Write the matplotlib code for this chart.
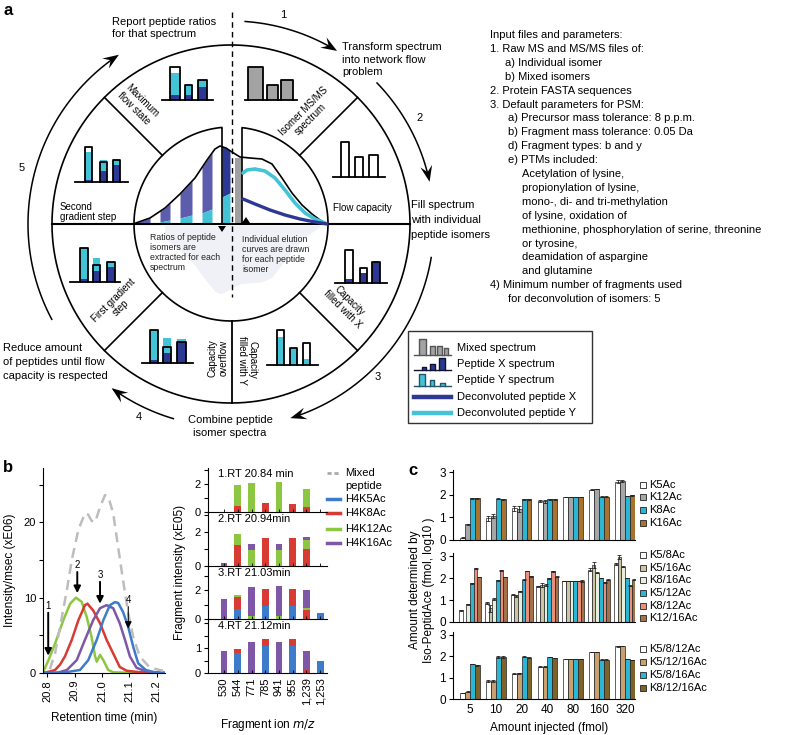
import numpy as np
import matplotlib
matplotlib.use('Agg')
import matplotlib.pyplot as plt
from matplotlib.patches import Rectangle, Polygon

plt.rcParams['font.family'] = ['Liberation Sans', 'DejaVu Sans']
plt.rcParams['font.size'] = 8

W, H = 786, 735
fig = plt.figure(figsize=(W / 100, H / 100), dpi=100)

# ------------------------------------------------------------------ data
# panel b, left: elution profiles (retention time, intensity xE06)
rt_k5 = [20.785, 20.86, 20.92, 20.950, 20.981, 21.005, 21.029, 21.047, 21.059, 21.077, 21.096, 21.114, 21.132, 21.16, 21.19, 21.23]
in_k5 = [0, 0.05, 0.4, 1.7, 4.4, 7.0, 9.0, 9.4, 9.3, 8.1, 6.1, 3.5, 1.3, 0.4, 0.1, 0.0]
rt_k8 = [20.785, 20.81, 20.829, 20.847, 20.865, 20.890, 20.914, 20.938, 20.947, 20.968, 20.993, 21.017, 21.041, 21.065, 21.090, 21.114, 21.14, 21.23]
in_k8 = [0.0, 0.2, 0.4, 1.1, 2.2, 4.4, 7.0, 9.0, 9.2, 8.3, 6.6, 4.4, 2.6, 0.8, 0.3, 0.2, 0.1, 0.0]
rt_k12 = [20.785, 20.805, 20.829, 20.859, 20.884, 20.905, 20.926, 20.944, 20.962, 20.975, 20.981, 20.993, 21.005, 21.023, 21.041, 21.08, 21.15, 21.23]
in_k12 = [0.1, 1.7, 3.9, 7.0, 9.2, 10.0, 9.45, 7.5, 4.8, 2.2, 1.5, 2.4, 1.7, 0.4, 0.1, 0.05, 0.02, 0.0]
rt_k16 = [20.785, 20.84, 20.872, 20.908, 20.938, 20.968, 20.993, 21.017, 21.041, 21.065, 21.084, 21.102, 21.126, 21.162, 21.23]
in_k16 = [0, 0.05, 0.4, 1.7, 4.4, 7.0, 8.6, 9.0, 8.6, 6.6, 4.4, 2.2, 0.7, 0.2, 0.0]
rt_mix = [20.81, 20.829, 20.847, 20.872, 20.890, 20.914, 20.938, 20.950, 20.962, 20.975, 20.993, 21.011, 21.023, 21.041, 21.059, 21.077, 21.096, 21.114, 21.138, 21.175, 21.223]
in_mix = [0.5, 2.6, 6.1, 11, 15, 19, 21.2, 21.0, 20.2, 20.0, 22.0, 23.6, 23.4, 21.2, 16.7, 12.3, 7.9, 4.8, 2.2, 0.7, 0.3]
scan_rt = [20.804, 20.91, 20.993, 21.096]
scan_top = [8.0, 13.4, 12.1, 8.8]
scan_tip = [2.3, 10.6, 9.2, 5.9]

# panel b, middle: fragment intensities (xE05)
frag_ions = ['530', '544', '771', '785', '941', '955', '1,239', '1,253']
scan_titles = ['1.RT 20.84 min', '2.RT 20.94min', '3.RT 21.03min', '4.RT 21.12min']
frag_k5 = [[0, 0, 0, 0, 0, 0, 0, 0],
           [0, 0, 0, 0, 0, 0, 0, 0],
           [0, 0.69, 0, 0.92, 0, 0.92, 0, 0.41],
           [0, 0.80, 0, 1.10, 0, 1.10, 0, 0.50]]
frag_k8 = [[0, 0.45, 0, 0.65, 0, 0.60, 0.35, 0],
           [0, 1.20, 0, 1.64, 0, 1.64, 1.00, 0],
           [0, 0.83, 0, 1.17, 0, 1.17, 0.65, 0],
           [0, 0.17, 0, 0.26, 0, 0.26, 0.13, 0]]
frag_k12 = [[0, 1.45, 2.10, 0, 2.14, 0, 1.32, 0],
            [0, 0.67, 0.95, 0, 0.95, 0, 0.52, 0],
            [0, 0.12, 0.23, 0, 0.23, 0, 0.10, 0],
            [0, 0, 0, 0, 0, 0, 0, 0]]
frag_k16 = [[0, 0, 0, 0, 0, 0, 0, 0],
            [0.19, 0, 0.31, 0, 0.35, 0, 0.19, 0],
            [1.40, 0, 1.95, 0, 2.02, 0, 1.25, 0],
            [0.87, 0, 1.23, 0, 1.24, 0, 0.76, 0]]
peptides_b = ['H4K5Ac', 'H4K8Ac', 'H4K12Ac', 'H4K16Ac']

# panel c: amount determined (log10 fmol)
injected = ['5', '10', '20', '40', '80', '160', '320']
single_names = ['K5Ac', 'K12Ac', 'K8Ac', 'K16Ac']
single_vals = [[0.10, 0.95, 1.40, 1.72, 1.90, 2.22, 2.58],
               [0.70, 1.05, 1.37, 1.70, 1.90, 2.25, 2.60],
               [1.85, 1.82, 1.80, 1.80, 1.90, 1.92, 1.95],
               [1.85, 1.80, 1.80, 1.80, 1.90, 1.92, 1.97]]
single_err = [[0.02, 0.12, 0.10, 0.05, 0.01, 0.02, 0.05],
              [0.02, 0.08, 0.12, 0.05, 0.01, 0.02, 0.05],
              [0.02, 0.02, 0.02, 0.02, 0.01, 0.02, 0.01],
              [0.02, 0.02, 0.02, 0.02, 0.01, 0.02, 0.01]]
double_names = ['K5/8Ac', 'K5/16Ac', 'K8/16Ac', 'K5/12Ac', 'K8/12Ac', 'K12/16Ac']
double_vals = [[0.53, 0.87, 1.25, 1.63, 1.86, 2.38, 2.65],
               [0.00, 0.62, 1.20, 1.68, 1.86, 2.60, 2.95],
               [0.80, 1.05, 1.40, 1.68, 1.86, 2.25, 2.52],
               [1.77, 1.90, 1.93, 1.98, 1.86, 2.00, 2.00],
               [2.45, 2.35, 2.32, 2.30, 1.86, 1.80, 1.65],
               [2.05, 2.05, 2.08, 2.07, 1.86, 1.93, 1.93]]
double_err = [[0.02, 0.04, 0.04, 0.03, 0.01, 0.06, 0.04],
              [0.00, 0.15, 0.05, 0.08, 0.01, 0.12, 0.10],
              [0.02, 0.03, 0.03, 0.03, 0.01, 0.03, 0.03],
              [0.02, 0.02, 0.02, 0.02, 0.01, 0.02, 0.02],
              [0.02, 0.02, 0.02, 0.02, 0.01, 0.02, 0.02],
              [0.02, 0.02, 0.02, 0.03, 0.03, 0.02, 0.02]]
triple_names = ['K5/8/12Ac', 'K5/12/16Ac', 'K5/8/16Ac', 'K8/12/16Ac']
triple_vals = [[0.28, 0.85, 1.18, 1.52, 1.88, 2.20, 2.47],
               [0.35, 0.85, 1.20, 1.52, 1.88, 2.20, 2.48],
               [1.65, 1.97, 1.98, 1.97, 1.88, 1.85, 1.87],
               [1.58, 1.97, 1.93, 1.93, 1.88, 1.85, 1.83]]
triple_err = [[0.01, 0.03, 0.02, 0.01, 0.01, 0.01, 0.01]] * 4

# ------------------------------------------------------------------ styles
CY = '#45c3d6'
DB = '#2c3892'
PU = '#5d5dae'
GR = '#a3a3a3'
col_b = ['#3d7cc9', '#d83a34', '#8dc640', '#7e57a6']
col_single = ['#ffffff', '#a6a6a6', '#2bb6d6', '#a8732e']
col_double = ['#ffffff', '#cdc4a6', '#e6eedc', '#2bb6d6', '#e9907c', '#a5714a']
col_triple = ['#ffffff', '#c9a070', '#2bb6d6', '#7d6329']


def px_axes(left, top, right, bottom):
    a = fig.add_axes([left / W, 1 - bottom / H, (right - left) / W, (bottom - top) / H])
    a.patch.set_alpha(0)
    return a


# ------------------------------------------------------------------ overlay (panel a + annotations)
ax0 = fig.add_axes([0, 0, 1, 1])
ax0.set_xlim(0, W)
ax0.set_ylim(H, 0)
ax0.axis('off')

cx, cy = 231, 224
R_out, R_in, R_arr = 179, 97, 203


def arc_xy(r, a1, a2, n=120):
    t = np.radians(np.linspace(a1, a2, n))
    return cx + r * np.cos(t), cy - r * np.sin(t)


def arrowhead(px, py, ang, L=16, Wd=6):
    a = np.radians(ang)
    d = np.array([np.sin(a), np.cos(a)])
    nrm = np.array([-d[1], d[0]])
    P = np.array([px, py])
    pts = [P, P - L * d + Wd * nrm, P - 0.62 * L * d, P - L * d - Wd * nrm]
    ax0.add_patch(Polygon(pts, closed=True, color='k', lw=0))


for a1, a2 in [(86, 58.5), (44, 12), (-9.5, -73), (-106.5, -126), (208, 123.5)]:
    x, y = arc_xy(R_arr, a1, a2)
    ax0.plot(x[:-4], y[:-4], color='k', lw=1.1)
    arrowhead(x[-1], y[-1], a2)

# outer ring and inner circle
x, y = arc_xy(R_out, 0, 360, 400)
ax0.plot(x, y, color='k', lw=1.2)
aL = np.degrees(np.arccos(-9 / R_in))
aR = np.degrees(np.arccos(11 / R_in))
x, y = arc_xy(R_in, 180, 360, 200)
ax0.plot(x, y, color='k', lw=1.2)
x, y = arc_xy(R_in, 180, aL, 120)
ax0.plot(np.r_[x, x[-1]], np.r_[y, cy], color='k', lw=1.2)
x, y = arc_xy(R_in, 0, aR, 120)
ax0.plot(np.r_[x, x[-1]], np.r_[y, cy], color='k', lw=1.2)

# dividers
ax0.plot([cx - R_out, cx + R_out], [cy, cy], color='k', lw=1.5)
ax0.plot([232, 232], [12, 297], color='k', lw=1.0, ls=(0, (4, 3)))
ax0.plot([232, 232], [cy + R_in, cy + R_out], color='k', lw=1.3)
for ang in [45, 135, -45, -135]:
    t = np.radians(ang)
    ax0.plot([cx + R_in * np.cos(t), cx + R_out * np.cos(t)],
             [cy - R_in * np.sin(t), cy - R_out * np.sin(t)], color='k', lw=1.2)

# inner elution diagram
prof_x = np.array([133, 150, 165, 180, 195, 207, 215, 220, 226, 232, 240, 250, 262, 272, 282, 292, 302, 312, 320, 327])
prof_y = np.array([224, 218, 208, 194, 178, 160, 149, 146, 148, 152, 157, 158, 159, 164, 178, 193, 205, 214, 220, 224])
shx = prof_x[2:-1]
shy = cy + (cy - prof_y[2:-1]) * 0.9
ax0.fill(np.r_[shx, shx[::-1]], np.r_[shy, np.full_like(shy, cy + 2)], color='#f0f1f6', lw=0, zorder=0)

cyan_bx = [133, 160, 180, 192, 202, 212, 221, 222, 230]
cyan_by = [224, 222, 218, 215, 213, 209, 207, 197, 193]
stripes = [(138, 150), (160, 170), (180, 192), (202, 212), (222, 230)]
for k, (s0, s1) in enumerate(stripes):
    xs = np.linspace(s0, s1, 20)
    top = np.interp(xs, prof_x, prof_y)
    cb = np.interp(xs, cyan_bx, cyan_by)
    ax0.fill_between(xs, cb, top, color=DB if k == len(stripes) - 1 else PU, lw=0)
    ax0.fill_between(xs, cy, cb, color=CY, lw=0)
ax0.add_patch(Rectangle((235, 158), 7, cy - 158, color='#a0a0a0', lw=0))
ax0.plot(prof_x, prof_y, color='k', lw=1.2)
cyx = [243, 247, 255, 265, 275, 285, 295, 305, 315, 325]
cyy = [173, 170, 169, 171, 178, 190, 203, 213, 219, 223]
ax0.plot(cyx, cyy, color=CY, lw=2.6, solid_capstyle='round')
dbx = [243, 255, 270, 285, 300, 315, 327]
dby = [199, 204, 210, 215, 219, 222, 224]
ax0.plot(dbx, dby, color=DB, lw=2.4, solid_capstyle='round')
ax0.add_patch(Polygon([[218, 226], [226, 226], [222, 232]], color='k', lw=0))
ax0.add_patch(Polygon([[242, 223], [250, 223], [246, 217]], color='k', lw=0))

ax0.text(150, 233, 'Ratios of peptide\nisomers are\nextracted for each\nspectrum', fontsize=6.3,
         va='top', ha='left', linespacing=1.15, color='#222222')
ax0.text(242, 235, 'Individual elution\ncurves are drawn\nfor each peptide\nisomer', fontsize=6.3,
         va='top', ha='left', linespacing=1.15, color='#222222')


def draw_icon(base, xs, xe, bars, edge='k', lw=1.3):
    for (xl, xr, top, fills) in bars:
        for (f0, f1, c) in fills:
            ax0.add_patch(Rectangle((xl, f0), xr - xl, f1 - f0, color=c, lw=0))
        ax0.plot([xl, xl, xr, xr], [base, top, top, base], color=edge, lw=lw)
    ax0.plot([xs, xe], [base, base], color=edge, lw=lw)


# Isomer MS/MS spectrum
draw_icon(100, 245, 297, [(248, 263, 67, [(67, 100, GR)]), (267, 278, 85, [(85, 100, GR)]),
                          (281, 293, 80, [(80, 100, GR)])])
# Flow capacity
draw_icon(177, 333, 385, [(341, 349, 142, []), (355, 363, 157, []), (369, 378, 155, [])])
# Capacity filled with X
draw_icon(283, 335, 387, [(345, 353, 250, [(279, 283, DB)]), (360, 367, 268, [(273, 283, DB)]),
                          (372, 380, 262, [(262, 283, DB)])])
# Capacity filled with Y
draw_icon(365, 267, 318, [(277, 284, 330, [(337, 365, CY)]), (290, 297, 348, [(348, 365, CY)]),
                          (303, 310, 343, [(359, 365, CY)])])
# Capacity overflow
draw_icon(363, 142, 193, [(150, 158, 330, [(330, 360, CY), (360, 363, DB)]),
                          (163, 171, 347, [(338, 353, CY), (353, 363, DB)]),
                          (177, 186, 342, [(339, 342, CY), (342, 363, DB)])])
# First gradient step
draw_icon(282, 70, 120, [(80, 88, 248, [(248, 279, CY), (279, 282, DB)]),
                         (93, 100, 265, [(258, 271, CY), (271, 282, DB)]),
                         (107, 115, 262, [(262, 267, CY), (267, 282, DB)])])
# Second gradient step
draw_icon(182, 75, 128, [(85, 92, 147, [(152, 180, CY), (180, 182, DB)]),
                         (100, 107, 162, [(160, 171, CY), (171, 182, DB)]),
                         (113, 120, 160, [(160, 165, CY), (165, 182, DB)])])
# Maximum flow state
draw_icon(100, 162, 213, [(170, 180, 67, [(73, 95, CY), (95, 100, DB)]),
                          (185, 192, 85, [(85, 95, CY), (95, 100, DB)]),
                          (198, 207, 80, [(80, 87, CY), (87, 100, DB)])])

seg_kw = dict(fontsize=7, ha='center', va='center', rotation_mode='anchor', multialignment='center',
              linespacing=1.1)
ax0.text(307, 115, 'Isomer MS/MS\nspectrum', rotation=45, **seg_kw)
ax0.text(333, 208, 'Flow capacity', fontsize=7, ha='left', va='center')
ax0.text(346, 305, 'Capacity\nfilled with X', rotation=-45, **seg_kw)
ax0.text(247, 360, 'Capacity\nfilled with Y', rotation=-90, **seg_kw)
ax0.text(218, 358, 'Capacity\noverflow', rotation=90, **seg_kw)
ax0.text(117, 304, 'First gradient\nstep', rotation=45, **seg_kw)
ax0.text(60, 212, 'Second\ngradient step', fontsize=7, ha='left', va='center', linespacing=1.1)
ax0.text(138, 105, 'Maximum\nflow state', rotation=-45, **seg_kw)


def lines_at(x, ys, strs, **kw):
    for yy, s in zip(ys, strs):
        ax0.text(x, yy, s, va='center', **kw)


out_kw = dict(fontsize=8)
lines_at(112, [22, 34], ['Report peptide ratios', 'for that spectrum'], **out_kw)
lines_at(342, [47, 60, 72], ['Transform spectrum', 'into network flow', 'problem'], **out_kw)
lines_at(411, [205, 220, 235], ['Fill spectrum', 'with individual', 'peptide isomers'], **out_kw)
lines_at(230, [420, 433], ['Combine peptide', 'isomer spectra'], ha='center', **out_kw)
lines_at(3, [348, 362, 376], ['Reduce amount', 'of peptides until flow', 'capacity is respected'], **out_kw)
for s, (xx, yy) in zip('12345', [(283, 15), (420, 118), (378, 377), (139, 417), (22, 168)]):
    ax0.text(xx, yy, s, fontsize=8, ha='center', va='center')

# parameter text
param_lines = [
    (0, 'Input files and parameters:'),
    (0, '1. Raw MS and MS/MS files of:'),
    (1, 'a) Individual isomer'),
    (1, 'b) Mixed isomers'),
    (0, '2. Protein FASTA sequences'),
    (0, '3. Default parameters for PSM:'),
    (2, 'a) Precursor mass tolerance: 8 p.p.m.'),
    (2, 'b) Fragment mass tolerance: 0.05 Da'),
    (2, 'd) Fragment types: b and y'),
    (2, 'e) PTMs included:'),
    (3, 'Acetylation of lysine,'),
    (3, 'propionylation of lysine,'),
    (3, 'mono-, di- and tri-methylation'),
    (3, 'of lysine, oxidation of'),
    (3, 'methionine, phosphorylation of serine, threonine'),
    (3, 'or tyrosine,'),
    (3, 'deamidation of aspargine'),
    (3, 'and glutamine'),
    (0, '4) Minimum number of fragments used'),
    (2, 'for deconvolution of isomers: 5'),
]
indent_x = [490, 505, 508, 522]
for i, (ind, s) in enumerate(param_lines):
    ax0.text(indent_x[ind], 35 + i * 13.9, s, fontsize=8, va='center', ha='left')

# legend box of panel a
ax0.add_patch(Rectangle((408, 331), 184, 92, fill=False, ec='#333333', lw=1.0))
leg_a = ['Mixed spectrum', 'Peptide X spectrum', 'Peptide Y spectrum', 'Deconvoluted peptide X',
         'Deconvoluted peptide Y']
leg_y = [348, 364, 380, 397, 413]
for s, yy in zip(leg_a, leg_y):
    ax0.text(457, yy, s, fontsize=8, va='center', ha='left')
draw_icon(355, 414, 451, [(419, 426, 339, [(339, 355, GR)]), (430, 435, 346, [(346, 355, GR)]),
                          (437, 442, 346, [(346, 355, GR)]), (444, 448, 348, [(348, 355, GR)])],
          edge='#555555', lw=1.0)
draw_icon(370, 414, 451, [(422, 426, 367, [(367, 370, DB)]), (430, 435, 364, [(364, 370, DB)]),
                          (439, 445, 358, [(358, 370, DB)])], edge='#111133', lw=1.0)
draw_icon(386, 414, 451, [(419, 425, 374, [(374, 386, CY)]), (430, 434, 380, [(380, 386, CY)]),
                          (440, 445, 383, [(383, 386, CY)])], edge='#225566', lw=1.0)
ax0.plot([414, 451], [397, 397], color=DB, lw=3.2)
ax0.plot([414, 451], [413, 413], color=CY, lw=3.2)

# panel labels
for s, (xx, yy) in zip('abc', [(3, 10), (3, 467), (408, 470)]):
    ax0.text(xx, yy, s, fontsize=12, fontweight='bold', va='center', ha='left')

# ------------------------------------------------------------------ panel b left
axb = px_axes(43, 468, 165, 673)
for rt, it, c in [(rt_k12, in_k12, col_b[2]), (rt_k8, in_k8, col_b[1]),
                  (rt_k16, in_k16, col_b[3]), (rt_k5, in_k5, col_b[0])]:
    axb.plot(rt, it, color=c, lw=1.8)
axb.plot(rt_mix, in_mix, color='#bdbdbd', lw=1.8, ls=(0, (4, 2.5)))
for k, (r, t0, t1) in enumerate(zip(scan_rt, scan_top, scan_tip)):
    axb.annotate('', xy=(r, t1), xytext=(r, t0),
                 arrowprops=dict(arrowstyle='-|>,head_length=0.5,head_width=0.25',
                                 color='k', lw=1.4 if k < 3 else 0.8, shrinkA=0, shrinkB=0))
    axb.text(r, t0 + 0.9, str(k + 1), fontsize=7, ha='center', va='center')
axb.set_xlim(20.785, 21.23)
axb.set_ylim(0, 27.2)
axb.set_yticks([0, 5, 10, 15, 20, 25])
axb.set_yticklabels(['0', '', '10', '', '20', ''])
axb.set_xticks([20.8, 20.9, 21.0, 21.1, 21.2])
axb.set_xticklabels(['20.8', '20.9', '21.0', '21.1', '21.2'], rotation=90)
for s in ['top', 'right']:
    axb.spines[s].set_visible(False)
axb.tick_params(labelsize=8, length=3, width=0.8, pad=2)
ax0.text(104, 718, 'Retention time (min)', fontsize=8.5, ha='center', va='center')
ax0.text(10, 570, 'Intensity/msec (xE06)', rotation=90, fontsize=8.5, ha='center', va='center')

# ------------------------------------------------------------------ panel b middle
rows = [(468, 512, 3.14, [0, 1, 2, 3], ['0', '', '2', '']),
        (512, 566, 3.15, [0, 1, 2, 3], ['0', '', '2', '']),
        (566, 619, 3.66, [0, 1, 2, 3], ['0', '', '2', '']),
        (619, 673, 2.16, [0, 0.5, 1, 1.5, 2], ['0', '', '1', '', ''])]
xcat = np.arange(len(frag_ions))
for r, (top, bot, ymax, yt, ytl) in enumerate(rows):
    a = px_axes(208, top, 327, bot)
    bottom = np.zeros(len(frag_ions))
    for vals, c in zip([frag_k5[r], frag_k8[r], frag_k12[r], frag_k16[r]], col_b):
        a.bar(xcat, vals, bottom=bottom, width=0.5, color=c, lw=0)
        bottom = bottom + np.array(vals)
    a.set_xlim(-1.17, 7.5)
    a.set_ylim(0, ymax)
    a.set_yticks(yt)
    a.set_yticklabels(ytl)
    for s in ['top', 'right']:
        a.spines[s].set_visible(False)
    a.tick_params(axis='y', labelsize=8, length=3, width=0.8, pad=2)
    a.set_xticks(xcat)
    a.tick_params(axis='x', direction='in', length=2, width=0.6)
    if r < 3:
        a.set_xticklabels([])
    else:
        a.set_xticklabels(frag_ions, rotation=90, fontsize=8)
        a.tick_params(axis='x', pad=3)
    a.text(0.08, 0.97, scan_titles[r], transform=a.transAxes, fontsize=8, ha='left', va='top')
ax0.text(268, 725, 'Fragment ion $\\it{m/z}$', fontsize=8.5, ha='center', va='center')
ax0.text(180, 572, 'Fragment intensity (xE05)', rotation=90, fontsize=8.5, ha='center', va='center')

# legend panel b
ax0.plot([327, 340], [473, 473], color='#aaaaaa', lw=2, ls=(0, (1.5, 1)))
ax0.text(345, 473, 'Mixed', fontsize=8, va='center')
ax0.text(345, 486, 'peptide', fontsize=8, va='center')
for s, c, yy in zip(peptides_b, col_b, [499, 513, 529, 543]):
    ax0.plot([327, 340], [yy, yy], color=c, lw=2.5)
    ax0.text(345, yy, s, fontsize=8, va='center')

# ------------------------------------------------------------------ panel c
groups = np.arange(len(injected))
crow = [(470, 540, 3.09, single_vals, single_err, col_single, single_names, 0.19, [485, 497, 510, 523]),
        (553, 622, 3.14, double_vals, double_err, col_double, double_names, 0.142,
         [555, 568, 580, 593, 606, 618]),
        (632, 699, 3.14, triple_vals, triple_err, col_triple, triple_names, 0.19, [649, 662, 675, 688])]
for r, (top, bot, ymax, vals, errs, cols, names, bw, ly) in enumerate(crow):
    a = px_axes(453, top, 635, bot)
    n = len(vals)
    for j in range(n):
        xx = groups + (j - (n - 1) / 2) * bw
        a.bar(xx, vals[j], width=bw, color=cols[j], edgecolor='#222222', lw=0.5)
        a.errorbar(xx, vals[j], yerr=errs[j], fmt='none', ecolor='#222222', elinewidth=0.6, capsize=1.2,
                   capthick=0.6)
    a.set_xlim(-0.66, 6.39)
    a.set_ylim(0, ymax)
    a.set_yticks([0, 1, 2, 3])
    for s in ['top', 'right']:
        a.spines[s].set_visible(False)
    a.tick_params(axis='y', labelsize=8.5, length=3, width=0.8, pad=2)
    a.set_xticks(groups)
    a.tick_params(axis='x', length=0)
    if r < 2:
        a.set_xticklabels([])
    else:
        a.set_xticklabels(injected, fontsize=8.5)
    for s, c, yy in zip(names, cols, ly):
        ax0.add_patch(Rectangle((640, yy - 3), 6, 6, facecolor=c, edgecolor='#222222', lw=0.6))
        ax0.text(649, yy, s, fontsize=8, va='center', ha='left')
ax0.text(549, 728, 'Amount injected (fmol)', fontsize=8.5, ha='center', va='center')
ax0.text(422, 590, 'Amount determined by\nIso-PeptidAce (fmol, log10 )', rotation=90, fontsize=8.5,
         ha='center', va='center', multialignment='center', linespacing=1.15)

fig.savefig('out.png', dpi=100)
